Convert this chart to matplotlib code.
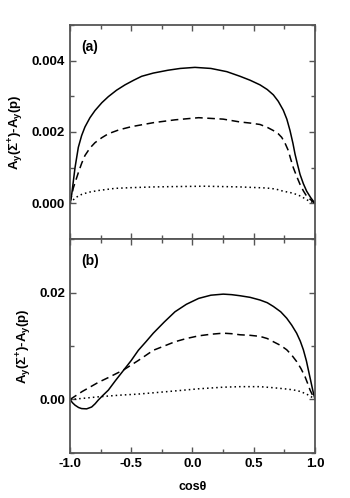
import numpy as np
import matplotlib
matplotlib.use("Agg")
import matplotlib.pyplot as plt
from matplotlib.ticker import MultipleLocator

plt.rcParams['font.family'] = ['Liberation Sans', 'DejaVu Sans']
plt.rcParams['font.weight'] = 'bold'
plt.rcParams['mathtext.fontset'] = 'custom'
plt.rcParams['mathtext.rm'] = 'Liberation Sans:bold'
plt.rcParams['mathtext.it'] = 'Liberation Sans:bold'
plt.rcParams['mathtext.bf'] = 'Liberation Sans:bold'
plt.rcParams['mathtext.sf'] = 'Liberation Sans:bold'

# Panel (a)
xa_solid = [-1.0, -0.986, -0.959, -0.932, -0.905, -0.878, -0.837, -0.796, -0.74, -0.687, -0.62, -0.551, -0.48, -0.415, -0.32, -0.2, -0.1, 0.02, 0.15, 0.28, 0.388, 0.47, 0.551, 0.61, 0.66, 0.70, 0.741, 0.77, 0.796, 0.82, 0.837, 0.858, 0.878, 0.905, 0.932, 0.965, 1.0]
ya_solid = [0.0, 0.00025, 0.0010, 0.00157, 0.0019, 0.00214, 0.0024, 0.0026, 0.00282, 0.00299, 0.00317, 0.00332, 0.00345, 0.00356, 0.00365, 0.00373, 0.00378, 0.00381, 0.00378, 0.00369, 0.00356, 0.00345, 0.00332, 0.00319, 0.00304, 0.00286, 0.00261, 0.00236, 0.00204, 0.00168, 0.00138, 0.00108, 0.00081, 0.00055, 0.00034, 0.00016, 0.0]
xa_dash = [-1.0, -0.973, -0.932, -0.905, -0.878, -0.837, -0.796, -0.74, -0.687, -0.6, -0.497, -0.4, -0.32, -0.143, 0.05, 0.25, 0.388, 0.47, 0.551, 0.61, 0.66, 0.70, 0.728, 0.755, 0.782, 0.80, 0.823, 0.85, 0.878, 0.905, 0.932, 0.965, 1.0]
ya_dash = [0.0, 0.00043, 0.00086, 0.00112, 0.00134, 0.00155, 0.0017, 0.00184, 0.00195, 0.00206, 0.00215, 0.00221, 0.00226, 0.00234, 0.0024, 0.00236, 0.00228, 0.00225, 0.00221, 0.00213, 0.00204, 0.00195, 0.00185, 0.00169, 0.00148, 0.00126, 0.0010, 0.00076, 0.00053, 0.00035, 0.0002, 0.0001, 0.0]
xa_dot = [-1.0, -0.986, -0.95, -0.905, -0.85, -0.769, -0.7, -0.633, -0.5, -0.32, -0.143, 0.1, 0.388, 0.605, 0.68, 0.741, 0.8, 0.85, 0.89, 0.932, 0.965, 1.0]
ya_dot = [0.0, 0.00006, 0.00017, 0.00025, 0.00031, 0.00036, 0.00039, 0.00042, 0.00044, 0.00046, 0.00047, 0.00048, 0.00046, 0.00043, 0.0004, 0.00034, 0.0003, 0.00025, 0.00019, 0.0001, 0.00005, 0.0]

# Panel (b)
xb_solid = [-1.0, -0.98, -0.959, -0.93, -0.905, -0.864, -0.823, -0.795, -0.769, -0.73, -0.687, -0.63, -0.565, -0.5, -0.442, -0.38, -0.32, -0.23, -0.143, -0.05, 0.05, 0.15, 0.251, 0.32, 0.388, 0.47, 0.551, 0.61, 0.66, 0.72, 0.769, 0.81, 0.85, 0.88, 0.905, 0.93, 0.946, 0.965, 0.982, 1.0]
yb_solid = [0.0, -0.0006, -0.00106, -0.0015, -0.0017, -0.00175, -0.0014, -0.0008, -0.0001, 0.0008, 0.00175, 0.0035, 0.0054, 0.0073, 0.0092, 0.0108, 0.0124, 0.0145, 0.0164, 0.0178, 0.0189, 0.0195, 0.0197, 0.0196, 0.0194, 0.0191, 0.0186, 0.0181, 0.0174, 0.0164, 0.0152, 0.0139, 0.0124, 0.0109, 0.0093, 0.0072, 0.0055, 0.0035, 0.0017, 0.0]
xb_dash = [-1.0, -0.9, -0.769, -0.687, -0.565, -0.442, -0.32, -0.22, -0.143, -0.05, 0.05, 0.15, 0.25, 0.32, 0.388, 0.47, 0.551, 0.61, 0.66, 0.72, 0.769, 0.81, 0.85, 0.885, 0.918, 0.94, 0.959, 0.98, 1.0]
yb_dash = [0.0, 0.0015, 0.0032, 0.0041, 0.0055, 0.0073, 0.0092, 0.0101, 0.0108, 0.0114, 0.0119, 0.0122, 0.0124, 0.0123, 0.0121, 0.0120, 0.0118, 0.0114, 0.0108, 0.0101, 0.0093, 0.0083, 0.0071, 0.0058, 0.0043, 0.0030, 0.0018, 0.0008, 0.0]
xb_dot = [-1.0, -0.9, -0.769, -0.6, -0.45, -0.32, -0.143, 0.05, 0.25, 0.388, 0.55, 0.66, 0.75, 0.823, 0.88, 0.932, 0.97, 1.0]
yb_dot = [0.0, 0.0002, 0.0005, 0.0008, 0.0010, 0.00125, 0.0016, 0.0020, 0.0023, 0.0024, 0.0024, 0.0022, 0.0020, 0.0018, 0.0015, 0.0010, 0.0005, 0.0]

xticks = [-1.0, -0.5, 0.0, 0.5, 1.0]
xticklabels = ['-1.0', '-0.5', '0.0', '0.5', '1.0']
ya_ticks = [0.000, 0.002, 0.004]
ya_labels = ['0.000', '0.002', '0.004']
yb_ticks = [0.00, 0.02]
yb_labels = ['0.00', '0.02']
ylabel = r'A$_\mathregular{y}$($\Sigma^\mathregular{+}$)-A$_\mathregular{y}$(p)'

fig = plt.figure(figsize=(3.5, 4.98), dpi=100)
axa = fig.add_axes([0.2, 0.520, 0.7, 0.430])
axb = fig.add_axes([0.2, 0.0904, 0.7, 0.4296])

spine_c = '#555555'
lw = 1.1
for ax in (axa, axb):
    for s in ax.spines.values():
        s.set_color(spine_c)
        s.set_linewidth(1.3)
    ax.tick_params(which='both', direction='in', top=True, right=True, color=spine_c,
                   labelsize=9.5, width=1.0)
    ax.tick_params(which='major', length=4.5)
    ax.tick_params(which='minor', length=3)
    ax.set_xlim(-1.0, 1.0)
    ax.xaxis.set_minor_locator(MultipleLocator(0.25))

axa.plot(xa_solid, ya_solid, color='black', lw=lw, ls='-')
axa.plot(xa_dash, ya_dash, color='black', lw=lw, ls=(0, (5, 3)))
axa.plot(xa_dot, ya_dot, color='black', lw=lw, ls=(0, (1, 2)))
axa.set_ylim(-0.001, 0.005)
axa.set_yticks(ya_ticks)
axa.set_yticklabels(ya_labels, fontweight='bold')
axa.yaxis.set_minor_locator(MultipleLocator(0.001))
axa.set_xticks(xticks)
axa.set_xticklabels([])
axa.set_ylabel(ylabel, fontsize=9.5, fontweight='bold', labelpad=4)
axa.text(0.045, 0.88, '(a)', transform=axa.transAxes, fontsize=10, fontweight='bold')

axb.plot(xb_solid, yb_solid, color='black', lw=lw, ls='-')
axb.plot(xb_dash, yb_dash, color='black', lw=lw, ls=(0, (5, 3)))
axb.plot(xb_dot, yb_dot, color='black', lw=lw, ls=(0, (1, 2)))
axb.set_ylim(-0.01, 0.03)
axb.set_yticks(yb_ticks)
axb.set_yticklabels(yb_labels, fontweight='bold')
axb.yaxis.set_minor_locator(MultipleLocator(0.01))
axb.set_xticks(xticks)
axb.set_xticklabels(xticklabels, fontweight='bold')
axb.set_ylabel(ylabel, fontsize=9.5, fontweight='bold', labelpad=4)
axb.set_xlabel('cosθ', fontsize=9, fontweight='bold', labelpad=8)
axb.text(0.045, 0.88, '(b)', transform=axb.transAxes, fontsize=10, fontweight='bold')

fig.savefig('out.png', dpi=100)
